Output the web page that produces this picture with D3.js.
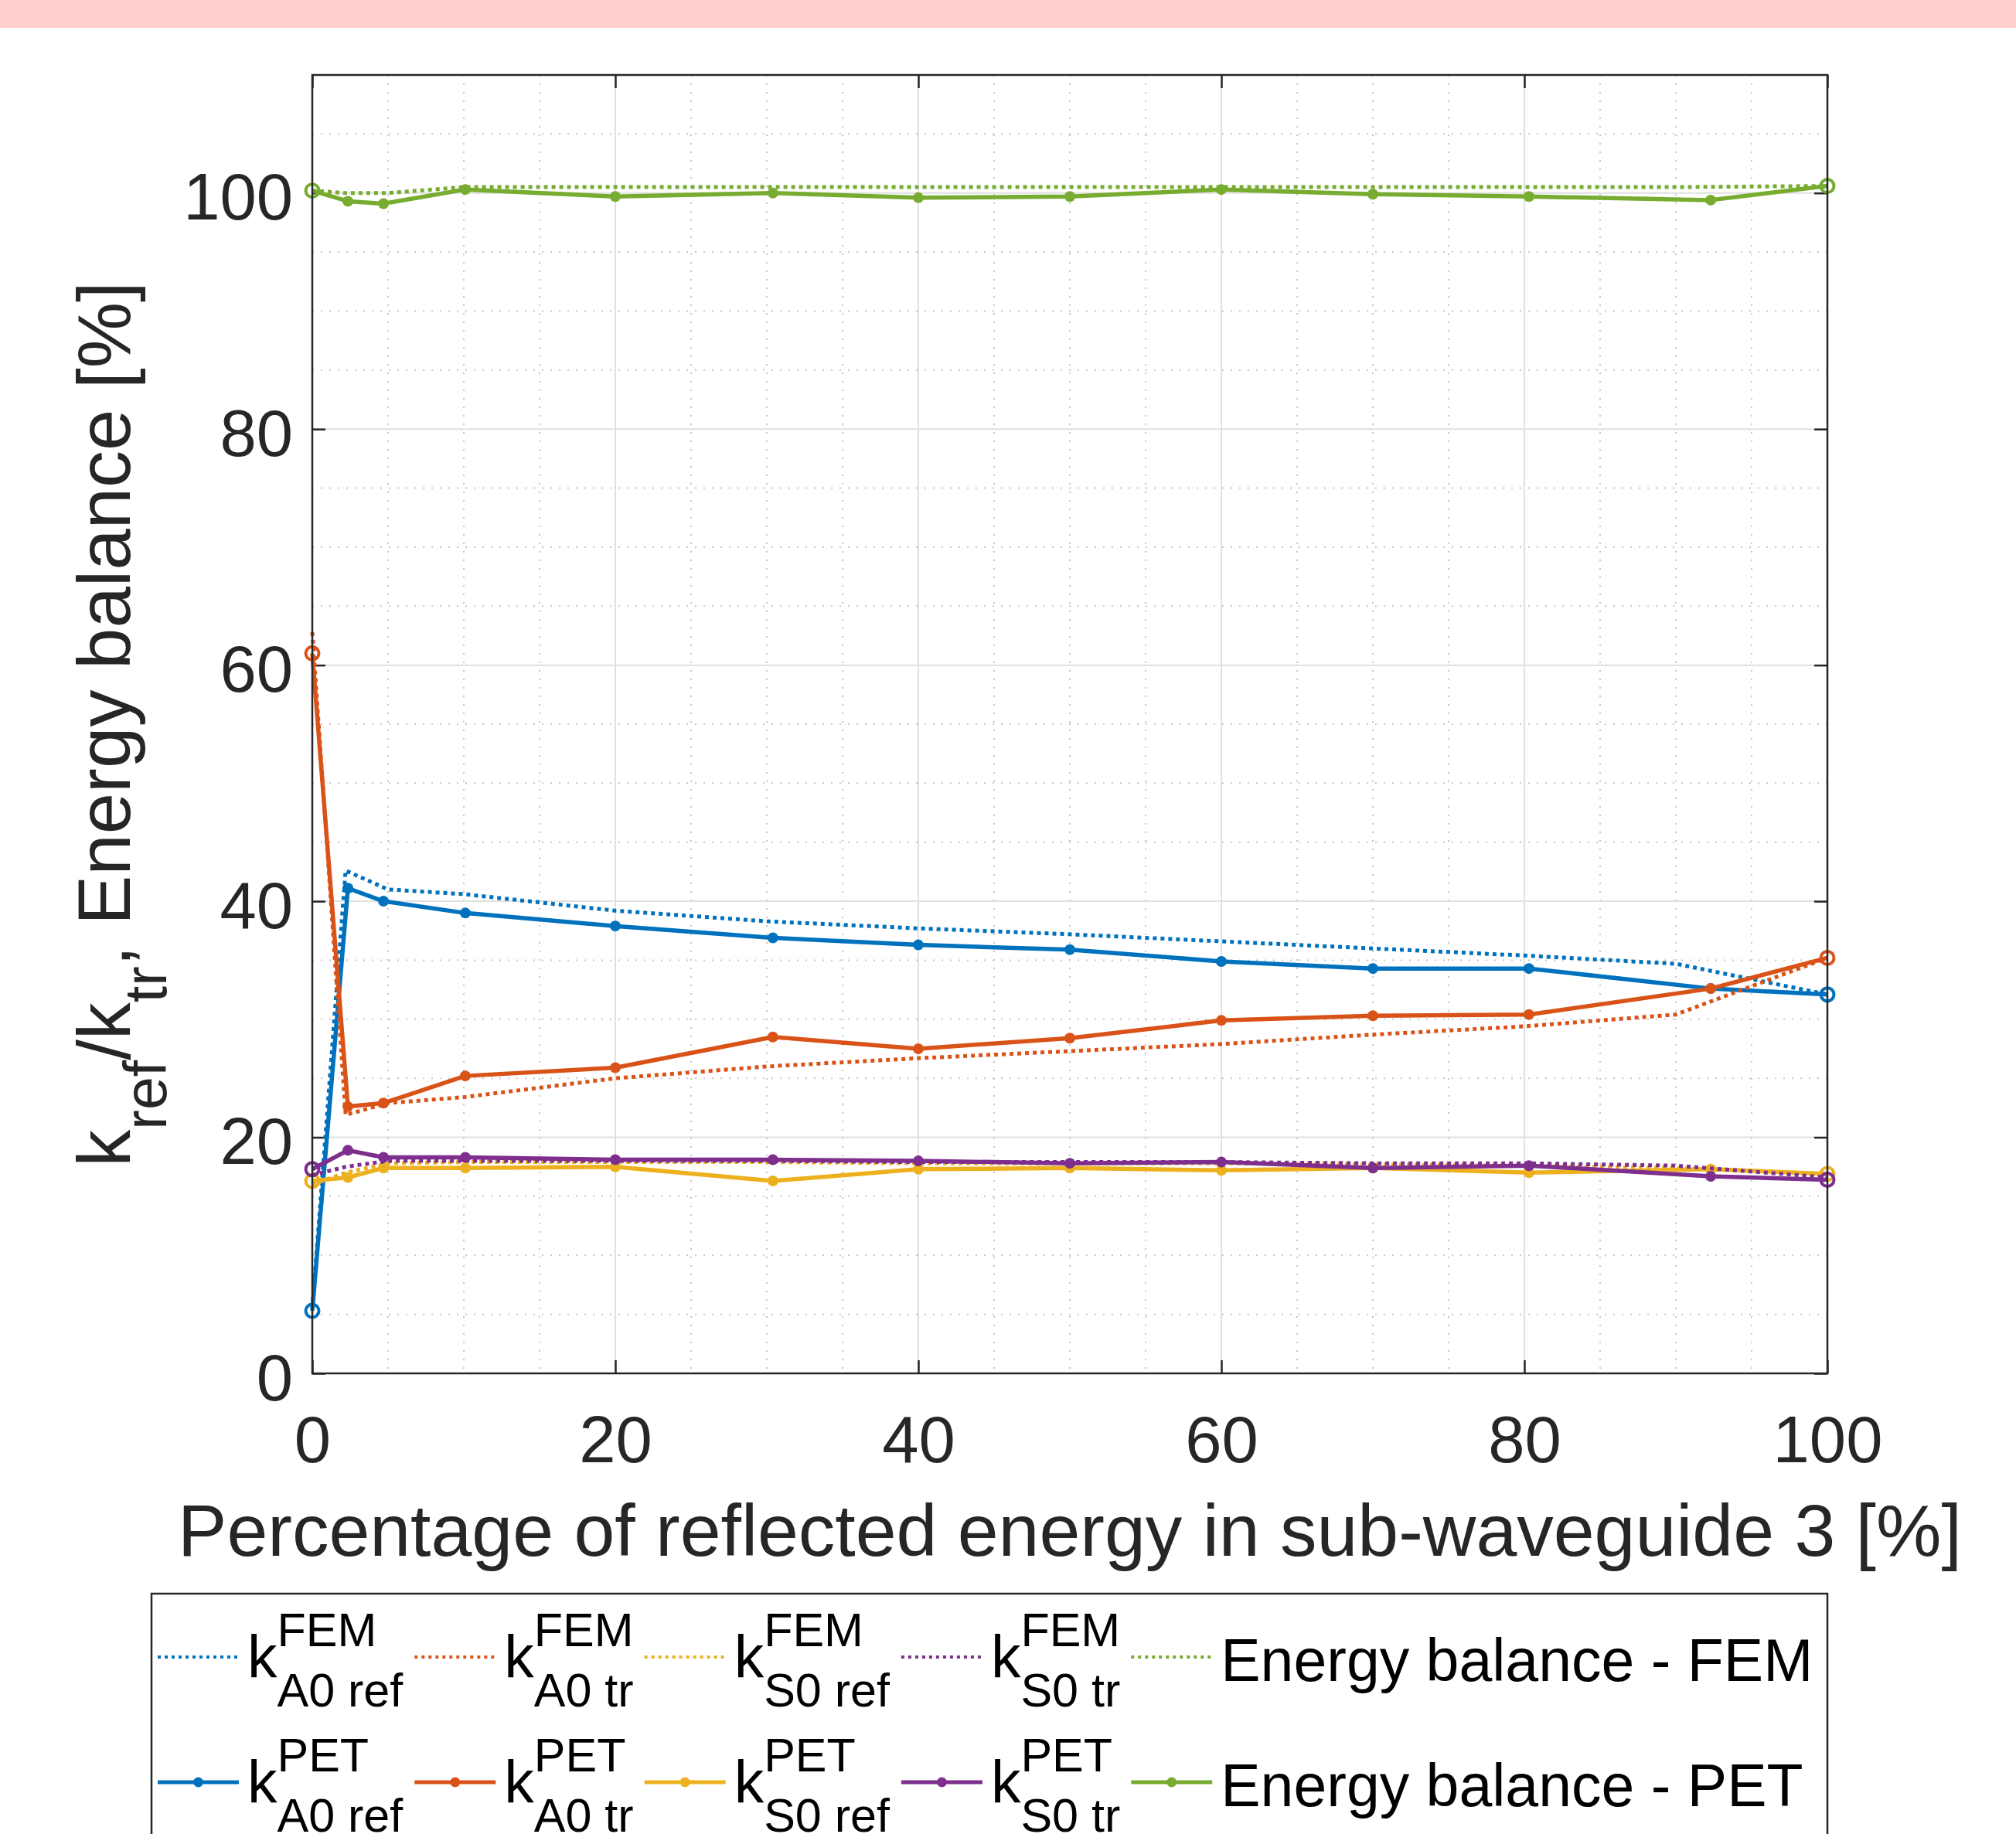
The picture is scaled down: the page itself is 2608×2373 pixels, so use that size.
<!DOCTYPE html>
<html>
<head>
<meta charset="utf-8">
<script src="https://cdn.jsdelivr.net/npm/d3@7"></script>
<style>
  html, body { margin: 0; padding: 0; background: #fff; }
  svg { display: block; font-family: 'Liberation Sans', Arial, Helvetica, sans-serif; }
</style>
</head>
<body>
<div id="chart"></div>
<script>
// x positions (percentage of reflected energy in sub-waveguide 3)
const xPet = [0, 2.35, 4.7, 10.1, 20, 30.4, 40, 50, 60, 70, 80.3, 92.3, 100];
const xFem = [0, 2.2, 5, 10, 20, 30, 40, 50, 60, 70, 80, 90, 100];

// k values [%]
const femA0ref = [5.5, 42.6, 41.0, 40.6, 39.2, 38.3, 37.7, 37.2, 36.6, 36.0, 35.4, 34.7, 32.1];
const petA0ref = [5.3, 41.1, 40.0, 39.0, 37.9, 36.9, 36.3, 35.9, 34.9, 34.3, 34.3, 32.6, 32.1];
const femA0tr = [62.8, 21.9, 22.9, 23.4, 25.0, 26.0, 26.7, 27.3, 27.9, 28.7, 29.4, 30.4, 35.2];
const petA0tr = [61.0, 22.6, 22.9, 25.2, 25.9, 28.5, 27.5, 28.4, 29.9, 30.3, 30.4, 32.6, 35.2];
const femS0ref = [16.0, 17.0, 17.8, 17.9, 17.9, 17.9, 17.8, 17.8, 17.8, 17.7, 17.6, 17.4, 16.9];
const petS0ref = [16.3, 16.6, 17.4, 17.4, 17.5, 16.3, 17.3, 17.4, 17.2, 17.4, 17.0, 17.3, 16.9];
const femS0tr = [16.8, 17.5, 18.0, 18.0, 18.0, 18.0, 17.9, 17.9, 17.9, 17.8, 17.8, 17.6, 16.6];
const petS0tr = [17.3, 18.9, 18.3, 18.3, 18.1, 18.1, 18.0, 17.8, 17.9, 17.4, 17.6, 16.7, 16.4];

// energy balance [%]
const femEnergy = [100.2, 100.0, 100.0, 100.5, 100.5, 100.5, 100.5, 100.5, 100.5, 100.5, 100.5, 100.5, 100.6];
const petEnergy = [100.2, 99.3, 99.1, 100.3, 99.7, 100.0, 99.6, 99.7, 100.3, 99.9, 99.7, 99.4, 100.6];

const xTicks = [0, 20, 40, 60, 80, 100];
const yTicks = [0, 20, 40, 60, 80, 100];

const series = [
  { fem: femA0ref, pet: petA0ref, color: '#0072BD', sub: 'A0 ref' },
  { fem: femA0tr, pet: petA0tr, color: '#D95319', sub: 'A0 tr' },
  { fem: femS0ref, pet: petS0ref, color: '#EDB120', sub: 'S0 ref' },
  { fem: femS0tr, pet: petS0tr, color: '#7E2F8E', sub: 'S0 tr' },
  { fem: femEnergy, pet: petEnergy, color: '#77AC30', energy: 'Energy balance' },
];

const W = 2608;
const H = 2373;
const plot = { left: 404, right: 2364, top: 97, bottom: 1777 };
const axisColor = '#262626';

const svg = d3.select('#chart')
  .append('svg')
    .attr('width', W)
    .attr('height', H)
    .attr('viewBox', `0 0 ${W} ${H}`);

svg.append('rect').attr('width', W).attr('height', H).attr('fill', '#fff');
svg.append('rect').attr('width', W).attr('height', 36).attr('fill', '#ffcfcf');

const x = d3.scaleLinear().domain([0, 100]).range([plot.left, plot.right]);
const y = d3.scaleLinear().domain([0, 110]).range([plot.bottom, plot.top]);

// grid: minor dotted every 5, major solid every 20
const minorX = d3.range(5, 100, 5).filter(v => v % 20 !== 0);
const minorY = d3.range(5, 110, 5).filter(v => v % 20 !== 0);
const grid = svg.append('g').attr('class', 'grid');

grid.selectAll('.minor-x').data(minorX).enter().append('line')
  .attr('x1', d => x(d)).attr('x2', d => x(d))
  .attr('y1', plot.top).attr('y2', plot.bottom)
  .attr('stroke', '#c6c6c6').attr('stroke-width', 2).attr('stroke-dasharray', '2 9');
grid.selectAll('.minor-y').data(minorY).enter().append('line')
  .attr('y1', d => y(d)).attr('y2', d => y(d))
  .attr('x1', plot.left).attr('x2', plot.right)
  .attr('stroke', '#c6c6c6').attr('stroke-width', 2).attr('stroke-dasharray', '2 9');
grid.selectAll('.major-x').data(xTicks.slice(1, -1)).enter().append('line')
  .attr('x1', d => x(d)).attr('x2', d => x(d))
  .attr('y1', plot.top).attr('y2', plot.bottom)
  .attr('stroke', '#e0e0e0').attr('stroke-width', 2);
grid.selectAll('.major-y').data(yTicks.slice(1)).enter().append('line')
  .attr('y1', d => y(d)).attr('y2', d => y(d))
  .attr('x1', plot.left).attr('x2', plot.right)
  .attr('stroke', '#e0e0e0').attr('stroke-width', 2);

// axes (ticks pointing inward, MATLAB style)
function styleAxis(g) {
  g.select('.domain').remove();
  g.style('color', axisColor)
    .attr('font-size', 85)
    .attr('font-family', "'Liberation Sans', Arial, Helvetica, sans-serif");
  g.selectAll('.tick line').attr('stroke-width', 2.5);
}

svg.append('g')
  .attr('transform', `translate(0, ${plot.bottom})`)
  .call(d3.axisBottom(x).tickValues(xTicks).tickSizeInner(-17).tickSizeOuter(0).tickPadding(55))
  .call(styleAxis);

const gy = svg.append('g')
  .attr('transform', `translate(${plot.left}, 0)`)
  .call(d3.axisLeft(y).tickValues(yTicks).tickSizeInner(-17).tickSizeOuter(0).tickPadding(25))
  .call(styleAxis);
gy.selectAll('.tick text').attr('dy', '0.4em');

svg.append('g')
  .attr('transform', `translate(0, ${plot.top})`)
  .call(d3.axisTop(x).tickValues(xTicks).tickSizeInner(-17).tickSizeOuter(0).tickFormat(() => ''))
  .call(styleAxis);
svg.append('g')
  .attr('transform', `translate(${plot.right}, 0)`)
  .call(d3.axisRight(y).tickValues(yTicks).tickSizeInner(-17).tickSizeOuter(0).tickFormat(() => ''))
  .call(styleAxis);

// data lines
const line = d3.line().x(d => x(d[0])).y(d => y(d[1]));
const marks = svg.append('g').attr('class', 'marks');

series.forEach(s => {
  marks.append('path')
    .datum(d3.zip(xFem, s.fem))
    .attr('d', line)
    .attr('fill', 'none')
    .attr('stroke', s.color)
    .attr('stroke-width', 5)
    .attr('stroke-dasharray', '5 5');

  const pts = d3.zip(xPet, s.pet);
  marks.append('path')
    .datum(pts)
    .attr('d', line)
    .attr('fill', 'none')
    .attr('stroke', s.color)
    .attr('stroke-width', 5.5)
    .attr('stroke-linejoin', 'round');

  marks.selectAll(null)
    .data(pts.slice(1, -1))
    .enter()
    .append('circle')
      .attr('cx', d => x(d[0]))
      .attr('cy', d => y(d[1]))
      .attr('r', 7)
      .attr('fill', s.color);

  marks.selectAll(null)
    .data([pts[0], pts[pts.length - 1]])
    .enter()
    .append('circle')
      .attr('cx', d => x(d[0]))
      .attr('cy', d => y(d[1]))
      .attr('r', 8.5)
      .attr('fill', 'none')
      .attr('stroke', s.color)
      .attr('stroke-width', 4);
});

// plot box
svg.append('rect')
  .attr('x', plot.left)
  .attr('y', plot.top)
  .attr('width', plot.right - plot.left)
  .attr('height', plot.bottom - plot.top)
  .attr('fill', 'none')
  .attr('stroke', axisColor)
  .attr('stroke-width', 2.5);

// axis titles
svg.append('text')
  .attr('x', (plot.left + plot.right) / 2)
  .attr('y', 2013)
  .attr('text-anchor', 'middle')
  .attr('font-size', 95)
  .attr('fill', axisColor)
  .text('Percentage of reflected energy in sub-waveguide 3 [%]');

const yTitle = svg.append('text')
  .attr('transform', `translate(168, ${(plot.top + plot.bottom) / 2}) rotate(-90)`)
  .attr('text-anchor', 'middle')
  .attr('font-size', 96)
  .attr('fill', axisColor);
yTitle.append('tspan').text('k');
yTitle.append('tspan').attr('font-size', 77).attr('dy', 47).text('ref');
yTitle.append('tspan').attr('dy', -47).text('/k');
yTitle.append('tspan').attr('font-size', 77).attr('dy', 47).text('tr');
yTitle.append('tspan').attr('dy', -47).text(', Energy balance [%]');

// legend
const legend = svg.append('g').attr('class', 'legend');
legend.append('rect')
  .attr('x', 196)
  .attr('y', 2062)
  .attr('width', plot.right - 196)
  .attr('height', 420)
  .attr('fill', '#fff')
  .attr('stroke', axisColor)
  .attr('stroke-width', 2.5);

const rows = [
  { method: 'FEM', dotted: true, y: 2144 },
  { method: 'PET', dotted: false, y: 2306 },
];
const sampleLen = 105;
let colX = 204;

series.forEach(s => {
  let colW = 0;
  rows.forEach(r => {
    const g = legend.append('g');
    const sample = g.append('line')
      .attr('x1', colX).attr('x2', colX + sampleLen)
      .attr('y1', r.y).attr('y2', r.y)
      .attr('stroke', s.color);
    if (r.dotted) {
      sample.attr('stroke-width', 4).attr('stroke-dasharray', '4 5');
    } else {
      sample.attr('stroke-width', 5);
      g.append('circle')
        .attr('cx', colX + sampleLen / 2).attr('cy', r.y)
        .attr('r', 6.5).attr('fill', s.color);
    }
    const tx = colX + sampleLen + 11;
    const lab = g.append('g').attr('fill', '#000');
    if (s.energy) {
      lab.append('text')
        .attr('x', tx).attr('y', r.y + 31)
        .attr('font-size', 77)
        .text(`${s.energy} - ${r.method}`);
    } else {
      const k = lab.append('text')
        .attr('x', tx).attr('y', r.y + 27)
        .attr('font-size', 77)
        .text('k');
      const kw = k.node().getComputedTextLength();
      lab.append('text')
        .attr('x', tx + kw).attr('y', r.y - 14)
        .attr('font-size', 61)
        .text(r.method);
      lab.append('text')
        .attr('x', tx + kw).attr('y', r.y + 64)
        .attr('font-size', 61)
        .text(s.sub);
    }
    const bb = lab.node().getBBox();
    colW = Math.max(colW, bb.x + bb.width - colX);
  });
  colX += colW + 14;
});
</script>
</body>
</html>
